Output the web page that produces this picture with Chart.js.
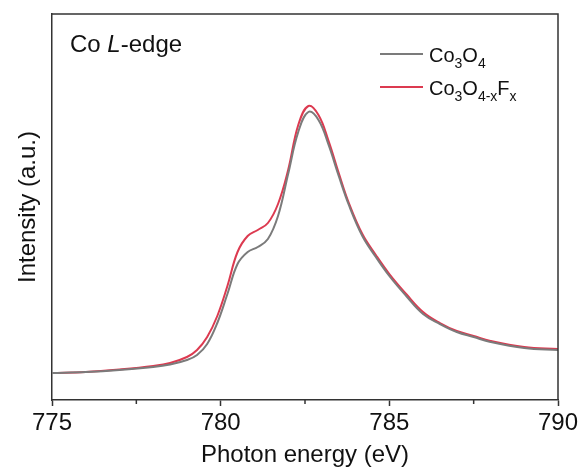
<!DOCTYPE html>
<html>
<head>
<meta charset="utf-8">
<script src="https://cdn.jsdelivr.net/npm/chart.js@4.4.1/dist/chart.umd.min.js"></script>
<style>
    html, body { margin: 0; padding: 0; background: #fff; }
    #wrap { width: 582px; height: 470px; }
</style>
</head>
<body>
<div id="wrap"><canvas id="xasChart" width="582" height="470"></canvas></div>
<script>
// photon energy (eV) sample points
const energy = [775, 776, 777, 778, 778.5, 779, 779.3, 779.6, 779.9, 780.2, 780.5, 780.8, 781.1, 781.4, 781.7,
    782.0, 782.3, 782.6, 782.9, 783.2, 783.5, 783.8, 784.2, 784.6, 785.0, 785.5, 786.0, 786.5, 787.0, 787.5,
    788.0, 789.0, 790.0];
// intensity (a.u.)
const co3o4 = [27, 28, 30, 33, 35.5, 40, 45, 56, 77, 106, 136, 148, 153, 161, 184,
    226, 268, 288, 280, 255, 224, 195, 164, 143, 124, 104, 86, 76, 68, 63,
    58, 52, 50];
const co3o4F = [27, 28, 30.5, 34, 37, 43, 50, 63, 84, 114, 148, 164, 170, 177, 196,
    230, 275, 294, 285, 259, 227, 197, 166, 145, 126, 106, 88, 77, 69, 64,
    59, 53, 51];
const xTicks = [775, 780, 785, 790];
const xMinorTicks = [777.5, 782.5, 787.5];

const FONT = '"Liberation Sans", Arial, sans-serif';
const AXIS_COLOR = '#333333';
const GRAY = '#7b7b7b';
const RED = '#dc3a50';

function toPoints(xs, ys) {
    return xs.map((x, i) => ({ x: x, y: ys[i] }));
}

// draws text with subscript parts: [[text, isSub], ...]
function drawRich(ctx, parts, x, y, size, subSize) {
    parts.forEach(([txt, sub]) => {
        ctx.font = (sub ? subSize : size) + 'px ' + FONT;
        ctx.fillText(txt, x, sub ? y + 6 : y);
        x += ctx.measureText(txt).width;
    });
}

const decorPlugin = {
    id: 'decor',
    afterDraw(chart) {
        const ctx = chart.ctx;
        const area = chart.chartArea;
        const xs = chart.scales.x;
        ctx.save();

        // top and right frame lines
        ctx.strokeStyle = AXIS_COLOR;
        ctx.lineWidth = 1.5;
        ctx.beginPath();
        ctx.moveTo(area.left, area.top);
        ctx.lineTo(area.right, area.top);
        ctx.lineTo(area.right, area.bottom);
        ctx.stroke();

        // minor ticks
        xMinorTicks.forEach(v => {
            const px = xs.getPixelForValue(v);
            ctx.beginPath();
            ctx.moveTo(px, area.bottom);
            ctx.lineTo(px, area.bottom + 4);
            ctx.stroke();
        });

        // panel label
        ctx.fillStyle = '#111';
        ctx.textBaseline = 'alphabetic';
        let x = 70;
        ctx.font = '24px ' + FONT;
        ctx.fillText('Co ', x, 52);
        x += ctx.measureText('Co ').width;
        ctx.font = 'italic 24px ' + FONT;
        ctx.fillText('L', x, 52);
        x += ctx.measureText('L').width;
        ctx.font = '24px ' + FONT;
        ctx.fillText('-edge', x, 52);

        // legend
        const rows = [
            { color: GRAY, y: 54, parts: [['Co', 0], ['3', 1], ['O', 0], ['4', 1]] },
            { color: RED, y: 87, parts: [['Co', 0], ['3', 1], ['O', 0], ['4-x', 1], ['F', 0], ['x', 1]] }
        ];
        rows.forEach(r => {
            ctx.strokeStyle = r.color;
            ctx.lineWidth = 2;
            ctx.beginPath();
            ctx.moveTo(380, r.y);
            ctx.lineTo(423, r.y);
            ctx.stroke();
            ctx.fillStyle = '#111';
            drawRich(ctx, r.parts, 429, r.y + 8, 20, 14);
        });

        ctx.restore();
    }
};

new Chart(document.getElementById('xasChart'), {
    type: 'line',
    data: {
        datasets: [
            {
                label: 'Co3O4',
                data: toPoints(energy, co3o4),
                borderColor: GRAY,
                borderWidth: 2,
                pointRadius: 0,
                tension: 0.4
            },
            {
                label: 'Co3O4-xFx',
                data: toPoints(energy, co3o4F),
                borderColor: RED,
                borderWidth: 2,
                pointRadius: 0,
                tension: 0.4
            }
        ]
    },
    options: {
        responsive: false,
        animation: false,
        layout: { padding: { top: 14, right: 24, left: 0, bottom: 0 } },
        plugins: {
            legend: { display: false },
            tooltip: { enabled: false }
        },
        scales: {
            x: {
                type: 'linear',
                min: 775,
                max: 790,
                afterBuildTicks: (scale) => {
                    scale.ticks = xTicks.map(v => ({ value: v }));
                },
                afterFit: (scale) => { scale.height = 70; },
                ticks: {
                    color: '#111',
                    font: { family: FONT, size: 24 },
                    padding: 3,
                    maxRotation: 0
                },
                grid: {
                    drawOnChartArea: false,
                    tickLength: 6,
                    tickColor: AXIS_COLOR,
                    tickWidth: 1.5
                },
                border: { color: AXIS_COLOR, width: 1.5 },
                title: {
                    display: true,
                    text: 'Photon energy (eV)',
                    color: '#111',
                    font: { family: FONT, size: 24 },
                    padding: { top: 0, bottom: 0 }
                }
            },
            y: {
                min: 0,
                max: 386,
                afterFit: (scale) => { scale.width = 52; },
                ticks: { display: false },
                grid: { display: false, drawOnChartArea: false },
                border: { color: AXIS_COLOR, width: 1.5 },
                title: {
                    display: true,
                    text: 'Intensity (a.u.)',
                    color: '#111',
                    font: { family: FONT, size: 24 },
                    padding: { top: 14, bottom: 0 }
                }
            }
        }
    },
    plugins: [decorPlugin]
});
</script>
</body>
</html>
